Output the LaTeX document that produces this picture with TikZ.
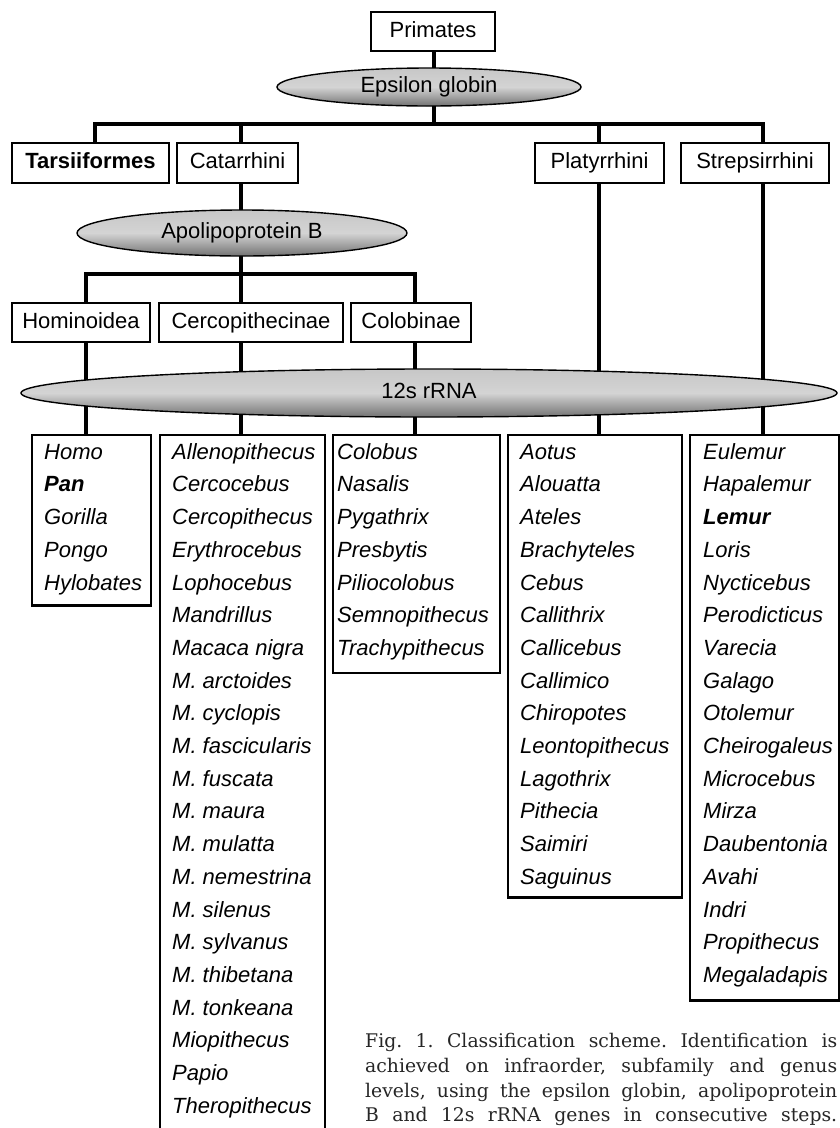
\documentclass[tikz,border=0pt]{standalone}
\usepackage{fontspec}
\newfontfamily\arial{Liberation Sans}
\newfontfamily\capfont{DejaVu Serif}
\usetikzlibrary{shapes.geometric}
\pgfdeclarelayer{background}
\pgfsetlayers{background,main}
\newcommand\splist[5]{\parbox{#1}{\leftskip=#2\relax\arial\itshape\fontsize{22}{32.7}\selectfont\rule{0pt}{#3}#5\rule[-#4]{0pt}{#4}}}
\tikzset{
 gbox/.style={draw, line width=2.4pt, rectangle, inner sep=0pt, text height=16pt, text depth=4.6pt, font=\arial\fontsize{22}{26}\selectfont},
 gene/.style={draw, line width=1.4pt, ellipse, inner sep=0pt, top color=black!22, bottom color=black!55, middle color=black!17, text height=16pt, text depth=4.6pt, font=\arial\fontsize{22}{26}\selectfont},
 spbox/.style={draw, line width=2.4pt, rectangle, inner sep=0pt, anchor=north west},
 conn/.style={line width=3.5pt, line join=miter},
}
\begin{document}
\begin{tikzpicture}[x=1pt,y=-1pt]
\path[use as bounding box] (0,0) rectangle (840,1128);
\clip (0,0) rectangle (840,1128);
% column coordinates
\coordinate (hubA) at (434,124);
\coordinate (hubB) at (241,274);
\coordinate (xT) at (95,0);
\coordinate (xC) at (241,0);
\coordinate (xP) at (599,0);
\coordinate (xS) at (763,0);
\coordinate (xH) at (86,0);
\coordinate (xCo) at (415,0);
% level 0
\node[gbox, minimum width=124pt, minimum height=39pt] (primates) at (433,31.5) {Primates};
\node[gene, minimum width=304pt, minimum height=38pt] (eps) at (429,87) {Epsilon globin};
% level 1
\node[gbox, minimum width=157pt, minimum height=40pt] (tars) at (90.5,163) {\textbf{Tarsiiformes}};
\node[gbox, minimum width=121pt, minimum height=40pt] (cat) at (237.5,163) {Catarrhini};
\node[gbox, minimum width=129pt, minimum height=40pt] (plat) at (599.5,163) {Platyrrhini};
\node[gbox, minimum width=148pt, minimum height=40pt] (strep) at (755,163) {Strepsirrhini};
\node[gene, minimum width=330pt, minimum height=46pt] (apo) at (242,233) {Apolipoprotein B};
% level 2
\node[gbox, minimum width=138pt, minimum height=39pt] (hom) at (81,322.5) {Hominoidea};
\node[gbox, minimum width=184pt, minimum height=39pt] (cerc) at (251,322.5) {Cercopithecinae};
\node[gbox, minimum width=120pt, minimum height=39pt] (colo) at (411,322.5) {Colobinae};
\node[gene, minimum width=816pt, minimum height=48pt] (rrna) at (429,393) {12s rRNA};
% genus lists
\node[spbox] (homo) at (31,434) {\splist{119pt}{12pt}{24pt}{15.6pt}{Homo\\\textbf{Pan}\\Gorilla\\Pongo\\Hylobates}};
\node[spbox] (allen) at (159,434) {\splist{165pt}{12pt}{24pt}{40pt}{Allenopithecus\\Cercocebus\\Cercopithecus\\Erythrocebus\\Lophocebus\\Mandrillus\\Macaca nigra\\M. arctoides\\M. cyclopis\\M. fascicularis\\M. fuscata\\M. maura\\M. mulatta\\M. nemestrina\\M. silenus\\M. sylvanus\\M. thibetana\\M. tonkeana\\Miopithecus\\Papio\\Theropithecus}};
\node[spbox] (colob) at (332,434) {\splist{167pt}{4pt}{24pt}{17.4pt}{Colobus\\Nasalis\\Pygathrix\\Presbytis\\Piliocolobus\\Semnopithecus\\Trachypithecus}};
\node[spbox] (aotus) at (507,434) {\splist{174pt}{12pt}{24pt}{13pt}{Aotus\\Alouatta\\Ateles\\Brachyteles\\Cebus\\Callithrix\\Callicebus\\Callimico\\Chiropotes\\Leontopithecus\\Lagothrix\\Pithecia\\Saimiri\\Saguinus}};
\node[spbox] (eul) at (689,434) {\splist{149pt}{13pt}{24pt}{18pt}{Eulemur\\Hapalemur\\\textbf{Lemur}\\Loris\\Nycticebus\\Perodicticus\\Varecia\\Galago\\Otolemur\\Cheirogaleus\\Microcebus\\Mirza\\Daubentonia\\Avahi\\Indri\\Propithecus\\Megaladapis}};
% caption
\node[anchor=north west, inner sep=0pt, text=black!85, font=\capfont\fontsize{18.8}{24.6}\selectfont] (cap) at (365,1033.5) {\parbox{472pt}{\frenchspacing\makebox[472pt][s]{Fig. 1. Classification scheme. Identification is}\\\makebox[472pt][s]{achieved on infraorder, subfamily and genus}\\\makebox[472pt][s]{levels, using the epsilon globin, apolipoprotein}\\\makebox[472pt][s]{B and 12s rRNA genes in consecutive steps.}}};
% connectors
\begin{pgfonlayer}{background}
\fill[white] (0,0) rectangle (840,1128);
\draw[conn] (primates.south -| hubA) -- (hubA);
\draw[conn] (tars.north -| xT) -- (hubA -| xT) -- (hubA -| xS) -- (strep.north -| xS);
\draw[conn] (hubA -| xC) -- (cat.north -| xC);
\draw[conn] (hubA -| xP) -- (plat.north -| xP);
\draw[conn] (cat.south -| xC) -- (hubB);
\draw[conn] (hom.north -| xH) -- (hubB -| xH) -- (hubB -| xCo) -- (colo.north -| xCo);
\draw[conn] (hubB) -- (cerc.north -| xC);
\draw[conn] (hom.south -| xH) -- (homo.north -| xH);
\draw[conn] (cerc.south -| xC) -- (allen.north -| xC);
\draw[conn] (colo.south -| xCo) -- (colob.north -| xCo);
\draw[conn] (plat.south -| xP) -- (aotus.north -| xP);
\draw[conn] (strep.south -| xS) -- (eul.north -| xS);
\end{pgfonlayer}
\end{tikzpicture}
\end{document}
